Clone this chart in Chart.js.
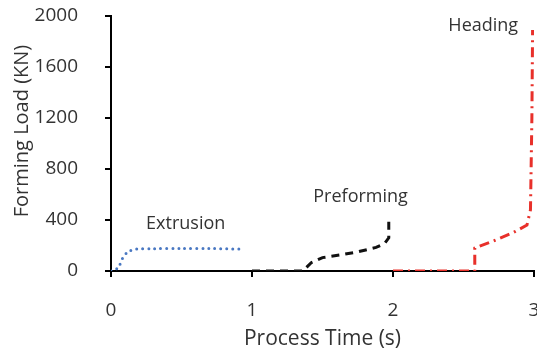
<!DOCTYPE html>
<html>
<head>
<meta charset="utf-8">
<script src="https://cdn.jsdelivr.net/npm/chart.js@4/dist/chart.umd.min.js"></script>
<style>
  html, body { margin: 0; padding: 0; background: #fff; }
  #wrap { width: 537px; height: 356px; }
</style>
</head>
<body>
<div id="wrap"><canvas id="c" width="537" height="356"></canvas></div>
<script>
// Forming load per stage (time in s, load in kN)
const extrusionTime = [0, 0.05, 0.08, 0.12, 0.18, 0.3, 0.5, 0.7, 0.94];
const extrusionLoad = [0, 25, 95, 150, 172, 175, 177, 176, 172];

const preformTime = [1.0, 1.36, 1.42, 1.5, 1.62, 1.75, 1.88, 1.94, 1.97, 1.97];
const preformLoad = [0, 0, 65, 105, 125, 150, 185, 215, 260, 400];

const headingTime = [2.0, 2.58, 2.58, 2.7, 2.85, 2.95, 2.975, 2.985, 2.99];
const headingLoad = [0, 0, 180, 230, 300, 360, 480, 1200, 1890];

const xTicks = [0, 1, 2, 3];
const yTicks = [0, 400, 800, 1200, 1600, 2000];

const stageNames = ['Extrusion', 'Preforming', 'Heading'];
const stageLabelTime = [0.53, 1.77, 2.64];
const stageLabelLoad = [370, 580, 1920];

const textColor = '#333';
const fontFamily = '"Open Sans", sans-serif';

const toPoints = (xs, ys) => xs.map((x, i) => ({ x: x, y: ys[i] }));

// stage names next to each curve, and the rotated y title
const stageText = {
  id: 'stageText',
  afterDraw(chart) {
    const { ctx, scales: { x, y } } = chart;
    ctx.save();
    ctx.fillStyle = textColor;
    ctx.textAlign = 'center';
    ctx.textBaseline = 'middle';
    ctx.font = '18px ' + fontFamily;
    stageNames.forEach((t, i) => {
      ctx.fillText(t, x.getPixelForValue(stageLabelTime[i]), y.getPixelForValue(stageLabelLoad[i]));
    });
    ctx.translate(22, 131);
    ctx.rotate(-Math.PI / 2);
    ctx.font = '20px ' + fontFamily;
    ctx.fillText('Forming Load (KN)', 0, 0);
    ctx.restore();
  }
};

new Chart(document.getElementById('c'), {
  type: 'line',
  data: {
    datasets: [
      {
        data: toPoints(extrusionTime, extrusionLoad),
        borderColor: '#4a78c2',
        borderWidth: 3,
        borderDash: [0, 6],
        borderCapStyle: 'round',
        pointRadius: 0,
        tension: 0.3
      },
      {
        data: toPoints(preformTime, preformLoad),
        borderColor: '#111',
        borderWidth: 3,
        borderDash: [8, 6],
        pointRadius: 0,
        tension: 0
      },
      {
        data: toPoints(headingTime, headingLoad),
        borderColor: '#e8302a',
        borderWidth: 3,
        borderDash: [10, 5, 2, 5],
        pointRadius: 0,
        tension: 0
      }
    ]
  },
  options: {
    responsive: false,
    animation: false,
    layout: { autoPadding: false, padding: { top: 16, right: 3 } },
    plugins: { legend: { display: false }, tooltip: { enabled: false } },
    scales: {
      x: {
        type: 'linear',
        min: 0, max: 3,
        afterBuildTicks: s => { s.ticks = xTicks.map(v => ({ value: v })); },
        afterFit: s => { s.height = 85; s.paddingLeft = 0; s.paddingRight = 0; },
        grid: { drawOnChartArea: false, color: '#000', lineWidth: 2, tickLength: 6 },
        border: { color: '#000', width: 2 },
        ticks: { color: textColor, padding: 22, font: { family: fontFamily, size: 19 }, callback: v => String(v) },
        title: {
          display: true, text: 'Process Time (s)', color: textColor,
          padding: { top: 0, bottom: 4 }, font: { family: fontFamily, size: 21 }
        }
      },
      y: {
        min: 0, max: 2000,
        afterBuildTicks: s => { s.ticks = yTicks.map(v => ({ value: v })); },
        afterFit: s => { s.width = 111; s.paddingTop = 0; s.paddingBottom = 0; },
        grid: { drawOnChartArea: false, color: '#000', lineWidth: 2, tickLength: 6 },
        border: { color: '#000', width: 2 },
        ticks: { color: textColor, padding: 27, font: { family: fontFamily, size: 19 }, callback: v => String(v) }
      }
    }
  },
  plugins: [stageText]
});
</script>
</body>
</html>
